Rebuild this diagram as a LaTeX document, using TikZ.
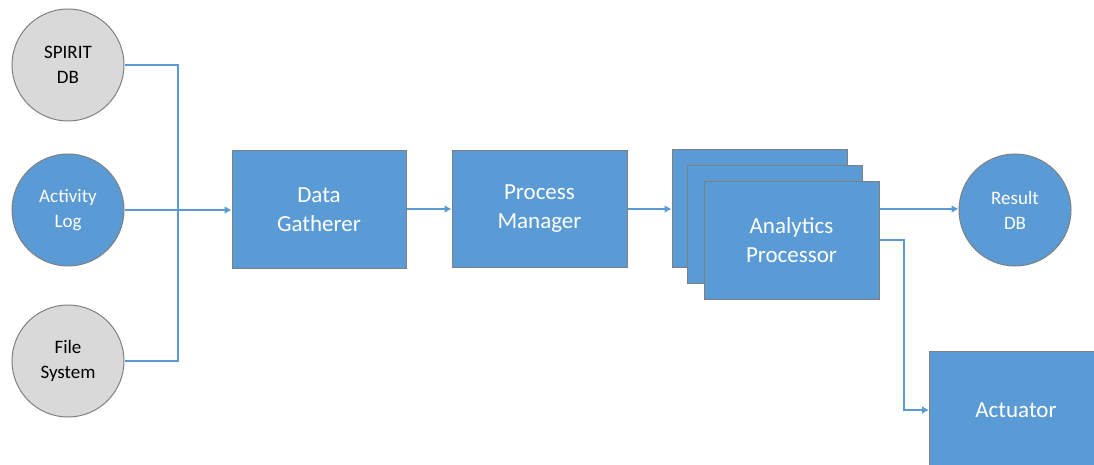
\documentclass[tikz,border=0pt]{standalone}
\usepackage{fontspec}
\setmainfont{Carlito}
\usetikzlibrary{arrows.meta}
\definecolor{boxblue}{HTML}{5B9BD5}
\definecolor{edgegray}{HTML}{7F7F7F}
\definecolor{srcgray}{HTML}{D9D9D9}
\tikzset{
  stage/.style={draw=edgegray, line width=1pt, fill=boxblue, text=white,
    minimum width=175pt, minimum height=117pt, align=center, inner sep=0pt,
    font=\fontsize{23}{29}\selectfont},
  src/.style={circle, draw=edgegray, line width=1pt, fill=srcgray,
    minimum size=112pt, inner sep=0pt, align=center,
    font=\fontsize{19}{25}\selectfont},
  srcblue/.style={src, fill=boxblue, text=white},
  flow/.style={draw=boxblue, line width=2.2pt},
  flowarrow/.style={flow, -{Latex[length=7pt,width=8pt]}}
}
\begin{document}
\begin{tikzpicture}[x=1pt,y=-1pt]
\useasboundingbox (0,0) rectangle (1094,465);
\clip (0,0) rectangle (1094,465);

% data sources
\node[src]     (spirit) at (68,65)  {SPIRIT\\DB};
\node[srcblue] (actlog) at (68,210) {Activity\\Log};
\node[src]     (files)  at (68,361) {File\\System};

% pipeline stages
\node[stage, minimum width=174pt] (gather)  at (319,209.5) {Data\\Gatherer};
\node[stage] (manager) at (539.5,209) {Process\\Manager};

% stacked analytics processors
\node[stage] (procA) at (759.5,208.5) {};
\node[stage] (procB) at (775,224.5) {};
\node[stage] (procC) at (791.5,240.5) {Analytics\\Processor};

% outputs
\node[srcblue] (result) at (1015,210) {Result\\DB};
\node[stage, anchor=north west, minimum width=180pt, minimum height=125pt] (act) at (929,351) {};
\node[text=white, font=\fontsize{23}{29}\selectfont] (actlabel) at (1016,410) {Actuator};

% merge bus from the sources
\coordinate (bus) at (178,210);
\draw[flow] (spirit.east) -| (bus);
\draw[flow] (files.east) -| (bus);
\draw[flowarrow] (actlog.east) -- (gather.west |- actlog.east);

% pipeline connectors
\draw[flowarrow] (gather.east |- 0,209) -- (manager.west |- 0,209);
\draw[flowarrow] (manager.east |- 0,209) -- (procA.west |- 0,209);
\draw[flowarrow] (procC.east |- 0,209) -- (result.west |- 0,209);
\coordinate (turn) at (904,240);
\draw[flowarrow] (procC.east |- turn) -- (turn) |- (act.west |- 0,410);
\end{tikzpicture}
\end{document}
